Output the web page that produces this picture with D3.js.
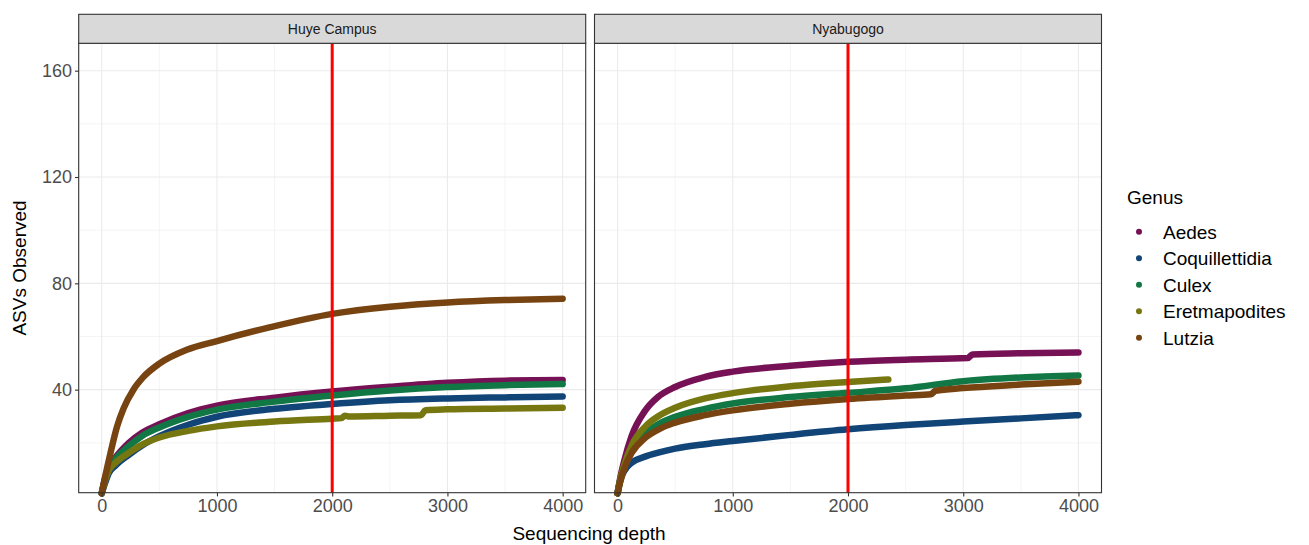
<!DOCTYPE html>
<html>
<head>
<meta charset="utf-8">
<script src="https://cdn.jsdelivr.net/npm/d3@7"></script>
<style>
  body { margin: 0; background: #fff; }
  text { font-family: "Liberation Sans", Arial, sans-serif; }
</style>
</head>
<body>
<svg width="1309" height="545"></svg>
<script>
const sites = ['Huye Campus', 'Nyabugogo']
const genera = ['Aedes', 'Coquillettidia', 'Culex', 'Eretmapodites', 'Lutzia']
const colors = ['#771155', '#114477', '#117744', '#777711', '#774411']
const xTicks = [0, 1000, 2000, 3000, 4000]
const yTicks = [40, 80, 120, 160]
const cutoff = 2000

// rarefaction curves: [depth, ASVs]
const huyeAedes = [[0,1],[30,7],[60,10.5],[120,14.5],[235,20],[350,23.8],[500,27],[750,31.2],[1000,34],[1500,37],[2000,39.3],[2500,41.1],[3000,42.6],[3500,43.4],[4000,43.6]]
const huyeCoquillettidia = [[0,1],[30,5],[60,8.5],[120,11.5],[235,15.5],[350,19],[500,22.5],[750,26.8],[1000,29.8],[1500,32.8],[2000,34.6],[2500,36],[3000,36.7],[3500,37.1],[4000,37.4]]
const huyeCulex = [[0,1],[30,6.5],[60,10],[120,14],[235,18.8],[350,22.6],[500,25.8],[750,29.8],[1000,32.5],[1500,35.5],[2000,37.8],[2500,39.7],[3000,41],[3500,41.7],[4000,42.1]]
const huyeEretmapodites = [[0,1],[30,6],[60,9.5],[120,12.5],[235,16.2],[350,19.3],[500,22],[750,24.5],[1000,26.2],[1500,28],[2000,29.1],[2080,29.3],[2110,30.2],[2150,29.9],[2500,30.2],[2770,30.4],[2810,32.3],[3000,32.6],[3500,32.9],[4000,33.2]]
const huyeLutzia = [[0,1],[30,7.3],[75,16],[132,26],[190,33],[275,40],[362,44.8],[500,49.8],[738,55],[1000,58.3],[1464,63.5],[2000,68.5],[2500,71.2],[3000,72.8],[3500,73.7],[4000,74.2]]

const nyaAedes = [[0,1],[20,6],[60,13.5],[122,22.5],[238,32],[353,37.3],[500,41],[760,44.8],[1000,46.8],[1500,49],[2000,50.5],[2500,51.3],[3040,51.9],[3080,53.2],[3500,53.7],[4000,54]]
const nyaCoquillettidia = [[0,1],[20,5.5],[60,9.5],[122,12.5],[238,14.8],[353,16.3],[500,17.8],[760,19.5],[1000,20.7],[1500,23],[2000,25.1],[2500,26.7],[3000,28],[3500,29.2],[4000,30.4]]
const nyaCulex = [[0,1],[20,5],[60,11],[122,17.5],[238,23.5],[353,27],[500,29.8],[760,32.8],[1000,34.8],[1500,37.2],[2000,38.8],[2500,40.5],[3000,43.2],[3500,44.6],[4000,45.3]]
const nyaEretmapodites = [[0,1],[20,5.5],[60,12],[122,19],[238,26],[353,30],[500,33.2],[760,36.7],[1000,38.7],[1500,41.3],[2000,42.9],[2350,43.8]]
const nyaLutzia = [[0,1],[20,4.8],[60,10.5],[122,16.2],[238,21.8],[353,25],[500,27.6],[760,30.4],[1000,32.2],[1500,34.7],[2000,36.5],[2500,37.8],[2720,38.3],[2760,39.6],[3000,40.6],[3500,41.9],[4000,43]]

const curves = [
  [huyeAedes, huyeCoquillettidia, huyeCulex, huyeEretmapodites, huyeLutzia],
  [nyaAedes, nyaCoquillettidia, nyaCulex, nyaEretmapodites, nyaLutzia]
]

const svg = d3.select('svg')
const panelW = 507, panelTop = 43.3, panelBottom = 492.7
const panelLeft = [78.7, 594.5]

const y = d3.scaleLinear().domain([1.24, 170.3]).range([panelBottom, panelTop])

sites.forEach((site, i) => {
  const x = d3.scaleLinear().domain([-200, 4200]).range([panelLeft[i], panelLeft[i] + panelW])
  const g = svg.append('g')

  // minor grid
  g.selectAll('.minx').data(d3.range(500, 4000, 1000)).enter().append('line')
    .attr('x1', d => x(d)).attr('x2', d => x(d)).attr('y1', panelTop).attr('y2', panelBottom)
    .attr('stroke', '#ebebeb').attr('stroke-width', 0.55)
  g.selectAll('.miny').data([20, 60, 100, 140]).enter().append('line')
    .attr('x1', panelLeft[i]).attr('x2', panelLeft[i] + panelW).attr('y1', d => y(d)).attr('y2', d => y(d))
    .attr('stroke', '#ebebeb').attr('stroke-width', 0.55)
  // major grid
  g.selectAll('.majx').data(xTicks).enter().append('line')
    .attr('x1', d => x(d)).attr('x2', d => x(d)).attr('y1', panelTop).attr('y2', panelBottom)
    .attr('stroke', '#ebebeb').attr('stroke-width', 1.1)
  g.selectAll('.majy').data(yTicks).enter().append('line')
    .attr('x1', panelLeft[i]).attr('x2', panelLeft[i] + panelW).attr('y1', d => y(d)).attr('y2', d => y(d))
    .attr('stroke', '#ebebeb').attr('stroke-width', 1.1)

  const line = d3.line().x(d => x(d[0])).y(d => y(d[1])).curve(d3.curveMonotoneX)
  g.selectAll('.curve').data(curves[i]).enter().append('path')
    .attr('d', line)
    .attr('fill', 'none')
    .attr('stroke', (d, j) => colors[j])
    .attr('stroke-width', 6.5)
    .attr('stroke-linecap', 'round')
    .attr('stroke-linejoin', 'round')

  g.append('line')
    .attr('x1', x(cutoff)).attr('x2', x(cutoff)).attr('y1', panelTop).attr('y2', panelBottom)
    .attr('stroke', '#ff0000').attr('stroke-width', 3)

  // panel border
  g.append('rect')
    .attr('x', panelLeft[i]).attr('y', panelTop).attr('width', panelW).attr('height', panelBottom - panelTop)
    .attr('fill', 'none').attr('stroke', '#333').attr('stroke-width', 1.1)

  // strip
  g.append('rect')
    .attr('x', panelLeft[i]).attr('y', 14.3).attr('width', panelW).attr('height', panelTop - 14.3)
    .attr('fill', '#d9d9d9').attr('stroke', '#333').attr('stroke-width', 1.1)
  g.append('text')
    .attr('x', panelLeft[i] + panelW / 2).attr('y', 34)
    .attr('text-anchor', 'middle').attr('font-size', 14).attr('fill', '#1a1a1a')
    .text(site)

  // x axis
  const xa = svg.append('g').attr('transform', `translate(0,${panelBottom})`)
    .call(d3.axisBottom(x).tickValues(xTicks).tickSize(3.7).tickPadding(3).tickFormat(d3.format('d')))
  xa.select('.domain').remove()
  xa.selectAll('line').attr('stroke', '#333').attr('stroke-width', 1.1)
  xa.selectAll('text').attr('font-size', 18).attr('fill', '#4d4d4d')
    .attr('font-family', '"Liberation Sans", Arial, sans-serif')
})

// y axis on the left panel
const ya = svg.append('g').attr('transform', `translate(${panelLeft[0]},0)`)
  .call(d3.axisLeft(y).tickValues(yTicks).tickSize(3.7).tickPadding(3))
ya.select('.domain').remove()
ya.selectAll('line').attr('stroke', '#333').attr('stroke-width', 1.1)
ya.selectAll('text').attr('font-size', 18).attr('fill', '#4d4d4d')
  .attr('font-family', '"Liberation Sans", Arial, sans-serif')

svg.append('text')
  .attr('x', 589).attr('y', 540)
  .attr('text-anchor', 'middle').attr('font-size', 19)
  .text('Sequencing depth')

svg.append('text')
  .attr('transform', `translate(26,${(panelTop + panelBottom) / 2}) rotate(-90)`)
  .attr('text-anchor', 'middle').attr('font-size', 19)
  .text('ASVs Observed')

// legend
const legend = svg.append('g').attr('transform', 'translate(1127,0)')
legend.append('text').attr('x', 0).attr('y', 204).attr('font-size', 19).text('Genus')
const items = legend.selectAll('.item').data(genera).enter().append('g')
  .attr('transform', (d, j) => `translate(0,${231.7 + j * 26.5})`)
items.append('circle').attr('cx', 12).attr('cy', 0).attr('r', 3).attr('fill', (d, j) => colors[j])
items.append('text').attr('x', 36).attr('y', 7).attr('font-size', 19).text(d => d)
</script>
</body>
</html>
